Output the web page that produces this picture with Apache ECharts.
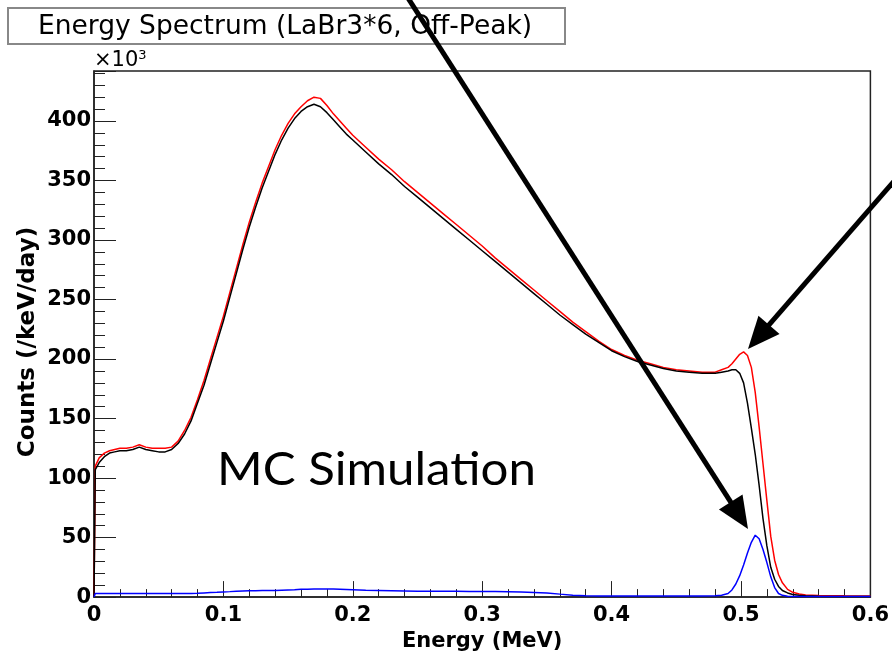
<!DOCTYPE html>
<html>
<head>
<meta charset="utf-8">
<script src="https://cdn.jsdelivr.net/npm/echarts@6/dist/echarts.min.js"></script>
<style>
  html, body { margin: 0; padding: 0; background: #fff; }
  #chart { width: 892px; height: 657px; }
</style>
</head>
<body>
<div id="chart"></div>
<script>
// energy bins (MeV)
const energy = [
  0, 0.001, 0.004, 0.008, 0.012, 0.016, 0.02,
  0.025, 0.03, 0.035, 0.04, 0.045, 0.05, 0.055, 0.06, 0.065, 0.07,
  0.075, 0.08, 0.085, 0.09, 0.095, 0.1, 0.105, 0.11, 0.115, 0.12,
  0.125, 0.13, 0.135, 0.14, 0.145, 0.15, 0.155, 0.16, 0.165, 0.17,
  0.175, 0.18, 0.185, 0.19, 0.195, 0.2,
  0.21, 0.22, 0.23, 0.24, 0.25, 0.26, 0.27, 0.28, 0.29, 0.30,
  0.31, 0.32, 0.33, 0.34, 0.35, 0.36, 0.37, 0.38, 0.39, 0.40,
  0.41, 0.42, 0.43, 0.44, 0.45, 0.46, 0.47, 0.48,
  0.485, 0.49, 0.493, 0.496, 0.499, 0.502, 0.505, 0.508, 0.511, 0.514, 0.517, 0.52,
  0.523, 0.526, 0.529, 0.532, 0.536, 0.54, 0.545, 0.55, 0.56, 0.58, 0.6
];

// counts in units of 10^3 /keV/day
const countsBlack = [
  0, 107, 113, 118, 121, 122, 123,
  123, 124, 126, 124, 123, 122, 122, 124, 129, 137,
  148, 163, 178, 196, 214, 232, 252, 272, 292, 311,
  328, 344, 358, 372, 384, 394, 402, 408, 412, 414,
  412, 407, 401, 395, 389, 384,
  374, 364, 355, 345, 336, 327, 318, 309, 300, 291,
  282, 273, 264, 255, 246, 237, 229, 221, 214, 207,
  202, 198, 195, 192, 190, 189, 188, 188,
  189, 190, 191, 191, 188, 180, 163, 142, 120, 94, 66, 43,
  25, 15, 9, 5.5, 3.5, 2.2, 1.5, 1.1, 0.8, 0.6, 0.5
];

const countsRed = [
  0, 110, 117, 121, 123, 124, 125,
  125, 126, 128, 126, 125, 125, 125, 126, 131, 140,
  151, 166, 182, 200, 218, 236, 256, 276, 296, 315,
  332, 348, 362, 376, 388, 398, 406, 412, 417, 420,
  419, 413, 406, 400, 394, 388,
  378, 368, 359, 349, 340, 331, 322, 313, 304, 295,
  285, 276, 267, 258, 249, 240, 231, 223, 215, 208,
  203, 199, 196, 193, 191, 190, 189, 189,
  191, 193, 196, 200, 204, 206, 203, 193, 172, 143, 112, 81,
  51, 31, 19, 12, 6.5, 4, 2.6, 1.8, 1.3, 1.1, 1
];

const countsBlue = [
  0, 3, 3, 3, 3, 3, 3,
  3, 3, 3, 3, 3, 3, 3, 3, 3, 3,
  3, 3.2, 3.5, 3.8, 4, 4.3, 4.6, 5, 5.2, 5.4,
  5.4, 5.5, 5.5, 5.6, 5.8, 6, 6.2, 6.5, 6.6, 6.8,
  6.8, 6.9, 6.8, 6.6, 6.4, 6.2,
  5.8, 5.6, 5.4, 5.2, 5, 5, 5, 4.9, 4.8, 4.7,
  4.6, 4.4, 4.2, 3.9, 3.5, 2.5, 1.6, 1.2, 1, 1,
  1, 1, 1, 1, 1, 1, 1, 1.2,
  1.6, 3, 6, 11, 18, 27, 37, 46, 52, 49, 40, 29,
  17, 8, 3, 1.5, 0.8, 0.6, 0.5, 0.5, 0.4, 0.4, 0.4
];

const titleText = 'Energy Spectrum (LaBr3*6, Off-Peak)';
const xTitle = 'Energy (MeV)';
const yTitle = 'Counts (/keV/day)';

const labelFont = {
  fontFamily: 'DejaVu Sans',
  fontWeight: 'bold',
  fontSize: 21,
  color: '#000'
};

function toPairs(ys) {
  return energy.map((e, i) => [e, ys[i]]);
}

// annotation arrow: line + filled head
function arrow(x1, y1, x2, y2) {
  const dx = x2 - x1, dy = y2 - y1;
  const L = Math.hypot(dx, dy);
  const ux = dx / L, uy = dy / L;
  const hl = 32, hw = 14;
  const bx = x2 - ux * hl, by = y2 - uy * hl;
  return [
    {
      type: 'line', z: 100,
      shape: { x1: x1, y1: y1, x2: bx + ux * 3, y2: by + uy * 3 },
      style: { stroke: '#000', lineWidth: 5 }
    },
    {
      type: 'polygon', z: 100,
      shape: { points: [[x2, y2], [bx - uy * hw, by + ux * hw], [bx + uy * hw, by - ux * hw]] },
      style: { fill: '#000' }
    }
  ];
}

const chart = echarts.init(document.getElementById('chart'));

const option = {
  animation: false,
  backgroundColor: '#fff',
  grid: {
    left: 94, right: 15, top: 71, bottom: 59,
    show: true, borderColor: '#222', borderWidth: 1.5
  },
  xAxis: {
    type: 'value',
    min: 0, max: 0.6, interval: 0.1,
    axisLine: { lineStyle: { color: '#222', width: 1.5 } },
    axisTick: { inside: true, length: 16, lineStyle: { color: '#222' } },
    minorTick: { show: true, splitNumber: 5, length: 8, lineStyle: { color: '#222' } },
    splitLine: { show: false },
    axisLabel: Object.assign({ margin: 8 }, labelFont),
    name: xTitle,
    nameLocation: 'middle',
    nameGap: 33,
    nameTextStyle: labelFont
  },
  yAxis: {
    type: 'value',
    min: 0, max: 442, interval: 50,
    axisLine: { show: true, lineStyle: { color: '#222', width: 1.5 } },
    axisTick: { inside: true, length: 22, lineStyle: { color: '#222' } },
    minorTick: { show: true, splitNumber: 5, length: 11, lineStyle: { color: '#222' } },
    splitLine: { show: false },
    axisLabel: Object.assign({ margin: 3, showMaxLabel: false }, labelFont)
  },
  series: [
    {
      name: 'red', type: 'line', data: toPairs(countsRed),
      showSymbol: false, lineStyle: { color: '#ff0000', width: 1.5 }, z: 2
    },
    {
      name: 'black', type: 'line', data: toPairs(countsBlack),
      showSymbol: false, lineStyle: { color: '#000000', width: 1.5 }, z: 3
    },
    {
      name: 'blue', type: 'line', data: toPairs(countsBlue),
      showSymbol: false, lineStyle: { color: '#0000ff', width: 1.5 }, z: 4
    }
  ],
  graphic: [
    {
      type: 'rect', z: 50,
      shape: { x: 8, y: 8, width: 557, height: 36 },
      style: { fill: '#fff', stroke: '#888', lineWidth: 2 }
    },
    {
      type: 'text', z: 51, x: 285, y: 27,
      style: {
        text: titleText, fontFamily: 'DejaVu Sans', fontSize: 26.5,
        fill: '#000', align: 'center', verticalAlign: 'middle'
      }
    },
    {
      type: 'text', z: 51, x: 94, y: 49,
      style: {
        text: '×10{s|3}', fontFamily: 'DejaVu Sans', fontSize: 21, fill: '#000',
        rich: { s: { fontFamily: 'DejaVu Sans', fontSize: 13, verticalAlign: 'top', padding: [0, 0, 11, 0] } }
      }
    },
    {
      type: 'text', z: 51, x: 28, y: 342, rotation: Math.PI / 2,
      style: {
        text: yTitle, fontFamily: 'DejaVu Sans', fontWeight: 'bold', fontSize: 23,
        fill: '#000', align: 'center', verticalAlign: 'middle'
      }
    },
    {
      type: 'text', z: 51, x: 217, y: 470, scaleX: 1.07,
      style: {
        text: 'MC Simulation', fontFamily: 'Lato', fontSize: 46,
        fill: '#000', align: 'left', verticalAlign: 'middle'
      }
    }
  ].concat(arrow(408, -2, 748, 529), arrow(895, 180, 748, 349))
};

chart.setOption(option);
</script>
</body>
</html>
